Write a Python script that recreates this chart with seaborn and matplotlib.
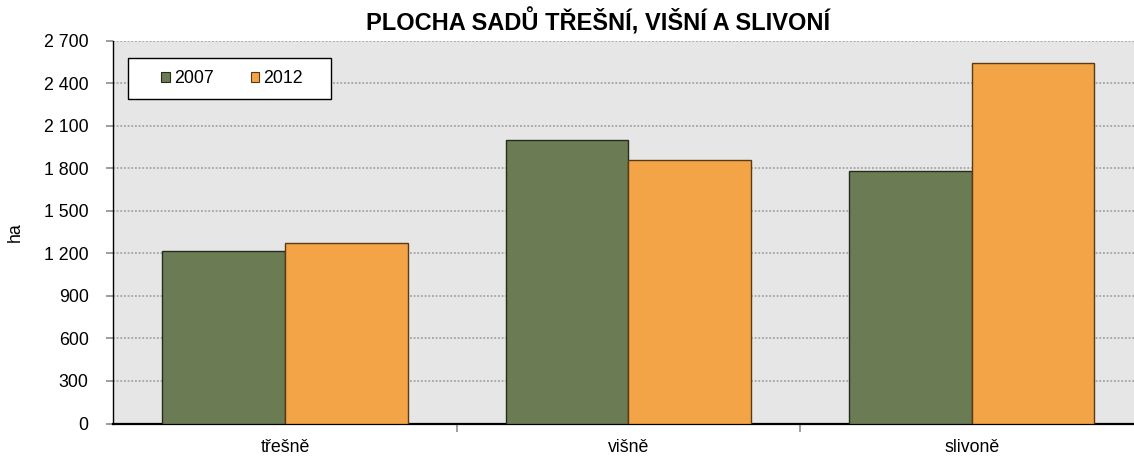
import matplotlib
matplotlib.use("Agg")
import matplotlib.pyplot as plt
import seaborn as sns
import pandas as pd
from matplotlib.ticker import FuncFormatter, FixedLocator
from matplotlib.patches import Rectangle, Patch

categories = ["třešně", "višně", "slivoně"]
years = ["2007", "2012"]
values_2007 = [1219, 2002, 1779]
values_2012 = [1275, 1856, 2545]
y_ticks = [0, 300, 600, 900, 1200, 1500, 1800, 2100, 2400, 2700]

title = "PLOCHA SADŮ TŘEŠNÍ, VIŠNÍ A SLIVONÍ"
ylabel = "ha"

colors = ["#6b7c55", "#f2a447"]
edges = ["#262c1c", "#5a3a12"]

df = pd.DataFrame({
    "kategorie": categories * 2,
    "rok": [years[0]] * 3 + [years[1]] * 3,
    "ha": values_2007 + values_2012,
})

sns.set_theme(style="white")
plt.rcParams["font.family"] = ["Liberation Sans", "DejaVu Sans"]
plt.rcParams["text.color"] = "black"
plt.rcParams["axes.labelcolor"] = "black"

W, H = 1134, 459
fig = plt.figure(figsize=(W / 100, H / 100), dpi=100)
ax = fig.add_axes([113.3 / W, 35.5 / H, 1030 / W, 382.8 / H])
ax.set_facecolor("#e6e6e6")

sns.barplot(data=df, x="kategorie", y="ha", hue="rok", order=categories,
            hue_order=years, palette=colors, saturation=1, width=0.714, gap=0,
            edgecolor="black", linewidth=1.0, ax=ax, legend=False, zorder=3)

for cont, ec in zip(ax.containers, edges):
    for p in cont:
        p.set_edgecolor(ec)

ax.set_ylim(0, 2700)
ax.set_xlim(-0.5, 2.5)
ax.yaxis.set_major_locator(FixedLocator(y_ticks))
ax.yaxis.set_major_formatter(FuncFormatter(lambda v, p: f"{int(v):,}".replace(",", " ")))
ax.grid(axis="y", color="#999999", linestyle=(0, (1.2, 1.2)), linewidth=1.1, zorder=0)
ax.grid(axis="x", visible=False)
ax.set_axisbelow(True)

ax.tick_params(axis="y", which="major", length=5.3, width=1.2, color="#8c8c8c",
               pad=12.5, labelsize=12.8, labelcolor="black", left=True, direction="out")
ax.set_xticks(range(len(categories)))
ax.set_xticklabels(categories)
ax.set_xticks([0.5, 1.5, 2.5], minor=True)
ax.tick_params(axis="x", which="major", length=0, pad=11, labelsize=12.8, labelcolor="black")
ax.tick_params(axis="x", which="minor", length=5.5, width=1.2, color="#8c8c8c",
               bottom=True, direction="out")
ax.set_xlabel("")
ax.set_ylabel("")

for s in ["top", "right"]:
    ax.spines[s].set_visible(False)
ax.spines["left"].set_color("black")
ax.spines["left"].set_linewidth(1.0)
ax.spines["bottom"].set_color("black")
ax.spines["bottom"].set_linewidth(1.6)

# legend frame
def px2ax(x, y):
    return (x - 113.3) / 1030, (423.5 - y) / 382.8

x0, y0 = px2ax(127.7, 99)
x1, y1 = px2ax(331, 58.3)
ax.add_patch(Rectangle((x0, y0), x1 - x0, y1 - y0, transform=ax.transAxes,
                       facecolor="white", edgecolor="black", linewidth=1.0, zorder=5))
handles = [Patch(facecolor=c, edgecolor=e, linewidth=0.8) for c, e in zip(colors, edges)]
cx, cy = px2ax(232, 78.7)
leg = ax.legend(handles, years, loc="center", bbox_to_anchor=(cx, cy), ncol=2,
                frameon=False, fontsize=12.8, handlelength=0.46, handleheight=0.46,
                handletextpad=0.23, columnspacing=2.1, borderpad=0, borderaxespad=0)
leg.set_zorder(6)

fig.text(598.5 / W, 1 - 22 / H, title, ha="center", va="center",
         fontsize=17, fontweight="bold", color="black")
fig.text(15 / W, 1 - 232 / H, ylabel, rotation=90, ha="center", va="center",
         fontsize=12.8, color="black")

fig.savefig("out.png", dpi=100)
